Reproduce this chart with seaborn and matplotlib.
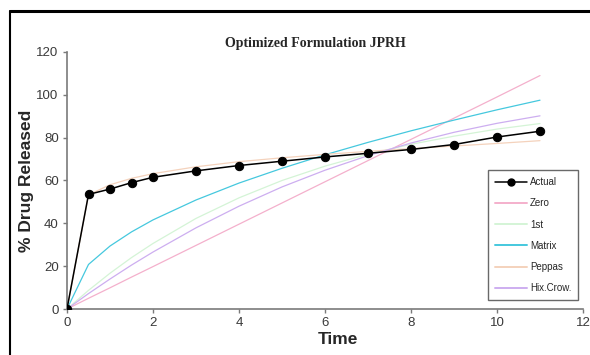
import pandas as pd
import matplotlib.pyplot as plt
import seaborn as sns
from matplotlib.lines import Line2D

# time points (hours)
time = [0, 0.5, 1, 1.5, 2, 3, 4, 5, 6, 7, 8, 9, 10, 11]

# observed release
actual = [0, 53.5, 56, 59, 61.5, 64.5, 67, 69, 71, 72.7, 74.5, 76.8, 80.3, 83]

# fitted kinetic models
zero = [0, 5.0, 9.9, 14.9, 19.8, 29.7, 39.6, 49.5, 59.4, 69.3, 79.2, 89.1, 99.0, 109.0]
first = [0, 8.7, 16.7, 24.0, 30.6, 42.3, 51.9, 60.0, 66.7, 72.3, 76.9, 80.7, 84.0, 86.6]
matrix = [0, 20.8, 29.4, 36.0, 41.6, 50.9, 58.8, 65.7, 72.0, 77.8, 83.2, 88.2, 93.0, 97.5]
peppas = [0, 53.3, 58.0, 61.0, 63.2, 66.4, 68.8, 70.6, 72.2, 73.6, 74.9, 76.1, 77.3, 78.6]
hix_crow = [0, 7.2, 14.0, 20.5, 26.6, 37.9, 48.0, 57.0, 64.8, 71.6, 77.5, 82.5, 86.7, 90.2]

models = ['Zero', '1st', 'Matrix', 'Peppas', 'Hix.Crow.']
model_values = [zero, first, matrix, peppas, hix_crow]
colors = {'Zero': '#f4b0cc', '1st': '#d4f4d6', 'Matrix': '#45c8de',
          'Peppas': '#f4d2bc', 'Hix.Crow.': '#cdaef0'}

sns.set_style('white')
plt.rcParams['font.family'] = ['Liberation Sans', 'DejaVu Sans']

W, H = 590, 355
fig = plt.figure(figsize=(W / 100, H / 100), dpi=100)
ax = fig.add_axes([67 / W, 1 - 309 / H, (583 - 67) / W, (309 - 52) / H])

df = pd.DataFrame({
    'Time': time * len(models),
    'Release': [v for vals in model_values for v in vals],
    'Model': [m for m in models for _ in time],
})
sns.lineplot(data=df, x='Time', y='Release', hue='Model', palette=colors,
             hue_order=models, linewidth=0.9, ax=ax, legend=False)
sns.lineplot(x=time, y=actual, color='black', marker='o', markersize=6,
             markeredgecolor='black', linewidth=1.1, ax=ax, zorder=5)

ax.set_xlim(0, 12)
ax.set_ylim(0, 120)
ax.set_xticks(range(0, 13, 2))
ax.set_yticks(range(0, 121, 20))
ax.set_xlabel('')
ax.set_ylabel('')
for side in ['top', 'right']:
    ax.spines[side].set_visible(False)
for side in ['left', 'bottom']:
    ax.spines[side].set_color('#7a7a7a')
    ax.spines[side].set_linewidth(1.2)
ax.tick_params(axis='both', direction='out', length=3, width=1, color='#7a7a7a',
               labelsize=9.5, labelcolor='#3a3a3a', pad=3, bottom=True, left=True)
ax.set_facecolor('white')

# legend
handles = [Line2D([], [], color='black', marker='o', markersize=5, linewidth=1.1)]
handles += [Line2D([], [], color=colors[m], linewidth=1.4) for m in models]
leg = ax.legend(handles, ['Actual'] + models, loc='lower right',
                bbox_to_anchor=(578 / W, 1 - 300 / H), bbox_transform=fig.transFigure,
                borderaxespad=0, fontsize=7, frameon=True, fancybox=False,
                handlelength=3.3, labelspacing=1.15, borderpad=0.7, handletextpad=0.3)
leg.get_frame().set_edgecolor('#444444')
leg.get_frame().set_linewidth(1.0)

fig.text(315 / W, 1 - 43 / H, 'Optimized Formulation JPRH', ha='center', va='center',
         fontsize=10, fontweight='bold', family=['Liberation Serif', 'DejaVu Serif'])
fig.text(27 / W, 1 - 181 / H, '% Drug Released', rotation=90, ha='center', va='center',
         fontsize=12.5, fontweight='bold')
fig.text(338 / W, 1 - 339 / H, 'Time', ha='center', va='center',
         fontsize=12.5, fontweight='bold')

# outer chart frame
fig.add_artist(Line2D([10 / W, 10 / W], [0, 1 - 11 / H], transform=fig.transFigure,
                      color='black', linewidth=1.5))
fig.add_artist(Line2D([10 / W, 1], [1 - 11 / H, 1 - 11 / H], transform=fig.transFigure,
                      color='black', linewidth=2.2))

fig.savefig('out.png', dpi=100)
